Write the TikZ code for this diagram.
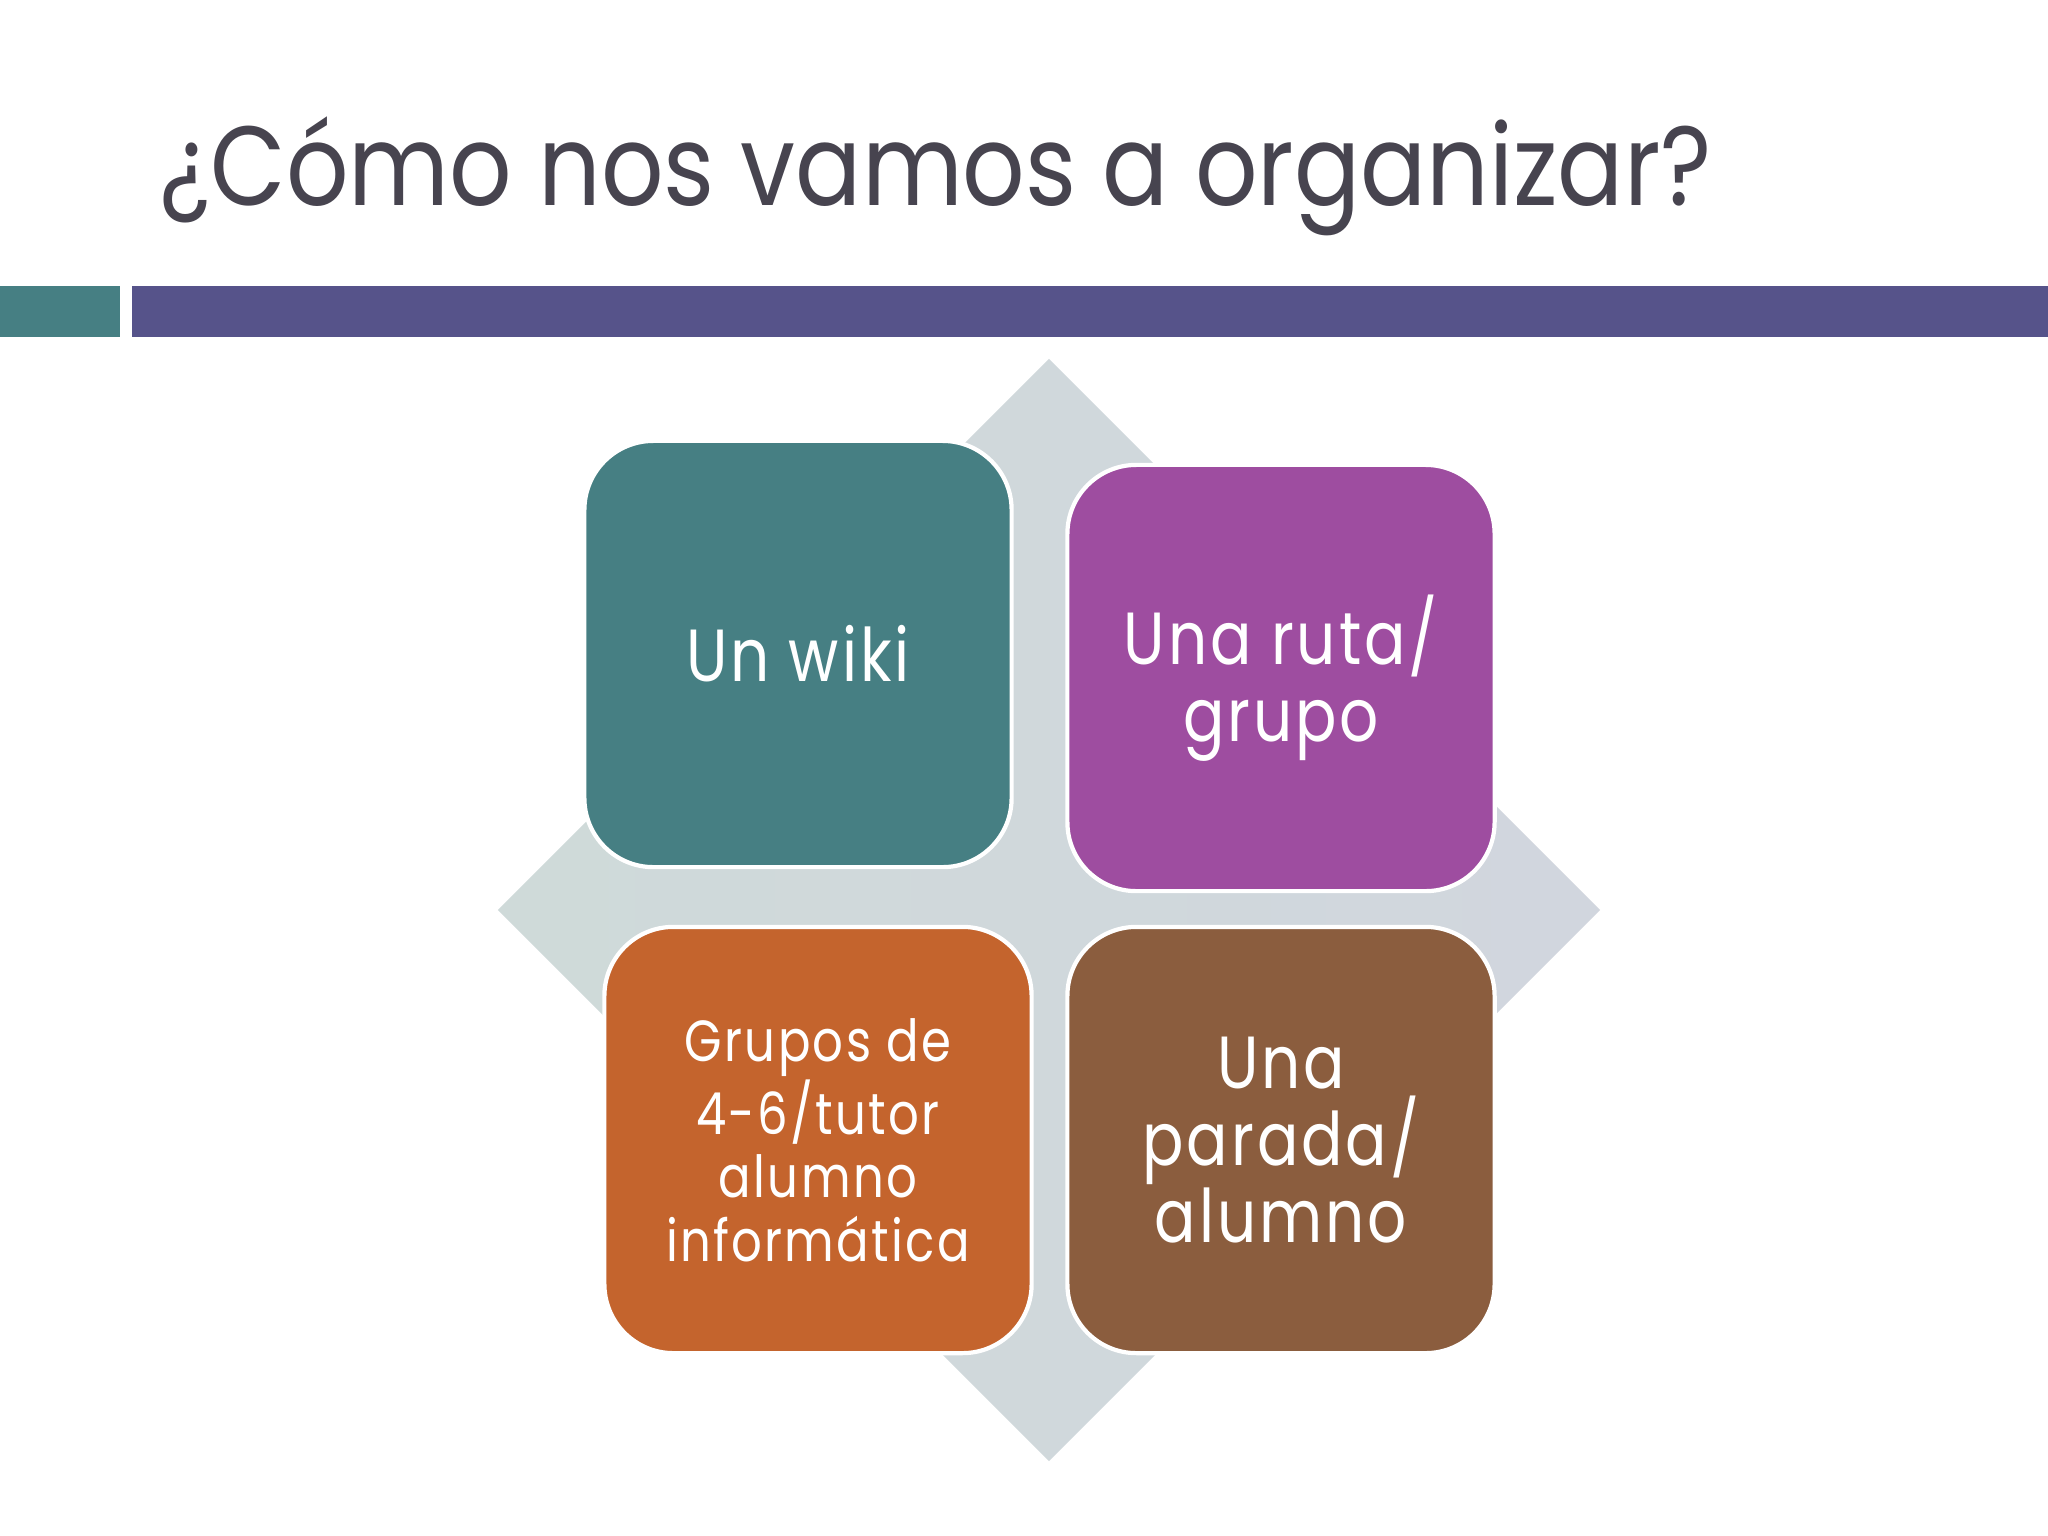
\documentclass[tikz,border=0pt]{standalone}
\usepackage{fontspec}
\setmainfont{Poppins}
\newfontfamily\titlefont[FakeStretch=0.87]{Poppins}
\newfontfamily\cellfont[LetterSpace=4,FakeStretch=0.83]{Poppins}
\usetikzlibrary{positioning,shapes.geometric}
\definecolor{tealbox}{HTML}{467F83}
\definecolor{purplebox}{HTML}{9E4DA0}
\definecolor{orangebox}{HTML}{C4642D}
\definecolor{brownbox}{HTML}{8B5D3E}
\definecolor{barpurple}{HTML}{56538A}
\definecolor{titlegray}{HTML}{47444F}
\definecolor{backleft}{HTML}{CFDAD9}
\definecolor{backright}{HTML}{D1D6DE}

\begin{document}
\begin{tikzpicture}[x=0.01cm,y=-0.01cm,
  cell/.style={rectangle, rounded corners=0.69cm, draw=white, line width=1.2pt,
    minimum width=4.27cm, minimum height=4.26cm, inner sep=0pt, align=center,
    text=white, font=\cellfont\fontsize{21}{22}\selectfont},
  smallcell/.style={cell, font=\cellfont\fontsize{16.5}{18}\selectfont}]
  \useasboundingbox[fill=white] (0,0) rectangle (2048,1536);
  \fill[tealbox] (0,286) rectangle (120,337);
  \fill[barpurple] (132,286) rectangle (2048,337);
  \node[anchor=base west, inner sep=0pt, text=titlegray,
    font=\titlefont\fontsize{32}{36}\selectfont] (title) at (159,205) {¿Cómo nos vamos a organizar?};
  \node[diamond, inner sep=0pt, minimum width=11.02cm, minimum height=11.02cm,
    left color=backleft, right color=backright] (backdrop) at (1049,910) {};
  \node[cell, fill=tealbox] (wiki) at (798,654) {Un wiki};
  \node[cell, fill=purplebox] (ruta) at (1281,678) {Una ruta/\\grupo};
  \node[smallcell, fill=orangebox] (grupos) at (818,1140) {Grupos de\\4-6/tutor\\alumno\\informática};
  \node[cell, fill=brownbox] (parada) at (1281,1140) {Una\\parada/\\alumno};
\end{tikzpicture}
\end{document}
